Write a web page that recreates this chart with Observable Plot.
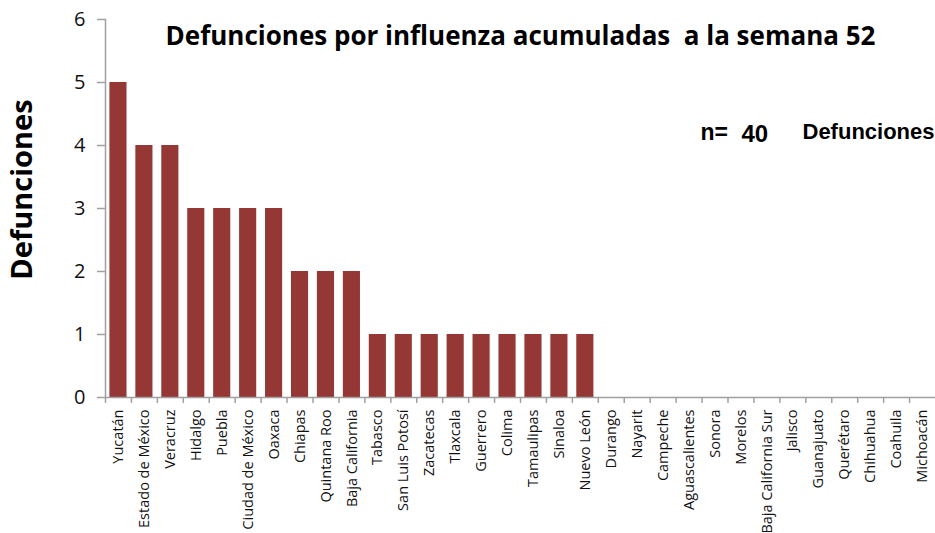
<!DOCTYPE html>
<html>
<head>
<meta charset="utf-8">
<script src="https://cdn.jsdelivr.net/npm/d3@7"></script>
<script src="https://cdn.jsdelivr.net/npm/@observablehq/plot@0.6"></script>
<style>
  html, body { margin: 0; padding: 0; background: #fff; }
  #chart { width: 935px; height: 533px; }
</style>
</head>
<body>
<div id="chart"></div>
<script>
const estados = ["Yucatán","Estado de México","Veracruz","Hidalgo","Puebla","Ciudad de México","Oaxaca","Chiapas","Quintana Roo","Baja California","Tabasco","San Luis Potosí","Zacatecas","Tlaxcala","Guerrero","Colima","Tamaulipas","Sinaloa","Nuevo León","Durango","Nayarit","Campeche","Aguascalientes","Sonora","Morelos","Baja California Sur","Jalisco","Guanajuato","Querétaro","Chihuahua","Coahuila","Michoacán"];
const defunciones = [5,4,4,3,3,3,3,2,2,2,1,1,1,1,1,1,1,1,1,0,0,0,0,0,0,0,0,0,0,0,0,0];
const yTicks = [0,1,2,3,4,5,6];
const titulo = "Defunciones por influenza acumuladas  a la semana 52";
const total = 40;

const data = estados.map((e, i) => ({estado: e, valor: defunciones[i]}));

const W = 935, H = 533, mL = 105, mR = 0, mT = 19, mB = 136;
const step = (W - mL - mR) / estados.length;
const axisColor = "#a0a0a0";
const arial = "'Liberation Sans', Arial, sans-serif";

const chart = Plot.plot({
  width: W,
  height: H,
  marginLeft: mL,
  marginRight: mR,
  marginTop: mT,
  marginBottom: mB,
  style: {fontFamily: "'Open Sans', sans-serif", background: "#fff", overflow: "visible"},
  x: {domain: estados, paddingInner: 0.34, paddingOuter: 0.17, round: false, label: null},
  y: {domain: [0, 6], ticks: yTicks, label: null},
  marks: [
    Plot.barY(data, {x: "estado", y: "valor", fill: "#953735"}),
    Plot.frame({anchor: "left", stroke: axisColor, strokeWidth: 1.5}),
    Plot.ruleY([0], {stroke: axisColor, strokeWidth: 1.5}),
    Plot.ruleX(estados, {x: d => d, y1: 0, y2: 0, dx: -step / 2, insetBottom: -6, stroke: axisColor, strokeWidth: 1.5}),
    Plot.axisY(yTicks, {tickSize: 8, tickPadding: 12, fontSize: 20, tickFormat: d3.format("d"), stroke: axisColor, strokeWidth: 1.5, color: "#111", label: null}),
    Plot.axisX({tickRotate: -90, tickSize: 0, tickPadding: 12, fontSize: 14.5, color: "#111", label: null}),
    Plot.text([titulo], {frameAnchor: "top", dy: 7, text: d => d, fontSize: 26, fontWeight: "bold", fill: "#000"}),
    Plot.text(["Defunciones"], {frameAnchor: "left", textAnchor: "middle", dx: -83, dy: -19, rotate: -90, text: d => d, fontSize: 29, fontWeight: "bold", fill: "#000"}),
    Plot.text(["n="], {frameAnchor: "top-right", dx: -235, dy: 104, text: d => d, textAnchor: "start", fontSize: 23, fontWeight: "bold", fontFamily: arial, fill: "#000"}),
    Plot.text([total], {frameAnchor: "top-right", dx: -194, dy: 105, text: d => String(d), textAnchor: "start", fontSize: 24, fontWeight: "bold", fontFamily: arial, fill: "#000"}),
    Plot.text(["Defunciones"], {frameAnchor: "top-right", dx: -133, dy: 104, text: d => d, textAnchor: "start", fontSize: 22, fontWeight: "bold", fontFamily: arial, fill: "#000"})
  ]
});
document.getElementById("chart").appendChild(chart);
</script>
</body>
</html>
